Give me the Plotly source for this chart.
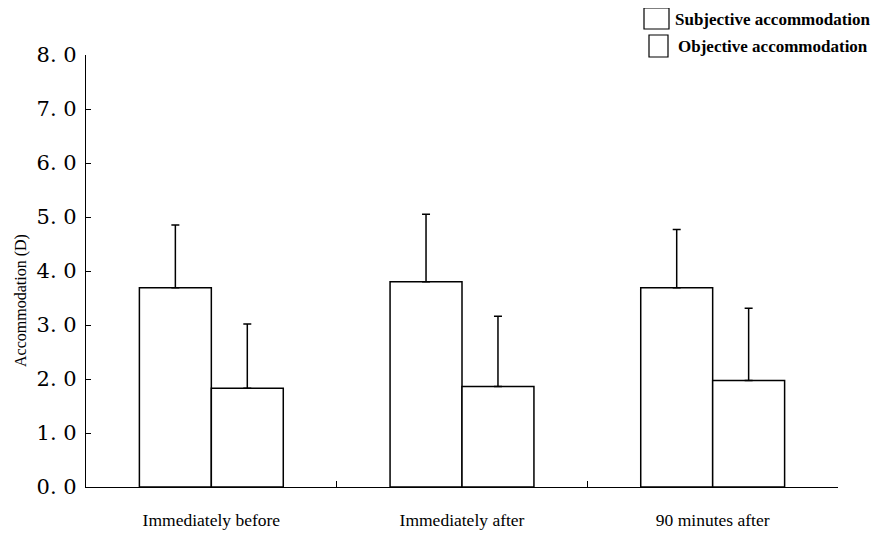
import plotly.graph_objects as go

categories = ["Immediately before", "Immediately after", "90 minutes after"]
subjective = [3.69, 3.80, 3.69]
subjective_sd = [1.16, 1.25, 1.08]
objective = [1.83, 1.86, 1.97]
objective_sd = [1.19, 1.30, 1.34]
ytick_vals = [0, 1, 2, 3, 4, 5, 6, 7, 8]
ytick_text = ["0. 0", "1. 0", "2. 0", "3. 0", "4. 0", "5. 0", "6. 0", "7. 0", "8. 0"]
legend_names = ["Subjective accommodation", "Objective accommodation"]

serif = "Liberation Serif, Times New Roman, serif"

fig = go.Figure()
fig.add_trace(go.Bar(
    name=legend_names[0], x=categories, y=subjective,
    marker=dict(color="white", line=dict(color="black", width=1.5)),
    error_y=dict(type="data", array=subjective_sd, arrayminus=[0, 0, 0], symmetric=False,
                 color="black", thickness=1.5, width=4),
))
fig.add_trace(go.Bar(
    name=legend_names[1], x=categories, y=objective,
    marker=dict(color="white", line=dict(color="black", width=1.5)),
    error_y=dict(type="data", array=objective_sd, arrayminus=[0, 0, 0], symmetric=False,
                 color="black", thickness=1.5, width=4),
))

# page is rendered with an 8px body margin; figure coords = screen coords - 8
FW, FH = 871, 527
L, T, W, H = 78, 47, 752, 432


def px2paper(x, y):
    return (x - L) / W, (T + H - y) / H


# custom legend (boxes + labels) in paper coordinates
box_px = [(636, 0, 661, 21), (641, 27, 660, 49)]
text_px = [(665, 12), (668, 39)]
legend_shapes = []
legend_annots = []
for (x0, y0, x1, y1), (tx, ty), name in zip(box_px, text_px, legend_names):
    a0, b0 = px2paper(x0, y1)
    a1, b1 = px2paper(x1, y0)
    legend_shapes.append(dict(type="rect", xref="paper", yref="paper", x0=a0, y0=b0, x1=a1, y1=b1,
                              line=dict(color="black", width=1.2), fillcolor="white"))
    ax, ay = px2paper(tx, ty)
    legend_annots.append(dict(text="<b>" + name + "</b>", xref="paper", yref="paper", x=ax, y=ay,
                              xanchor="left", yanchor="middle", showarrow=False,
                              font=dict(family=serif, size=17, color="black")))

tx, ty = px2paper(13, 293)
fig.update_layout(
    width=FW, height=FH,
    margin=dict(l=L, r=FW - L - W, t=T, b=FH - T - H, autoexpand=False),
    plot_bgcolor="white", paper_bgcolor="white",
    barmode="group", bargap=0.426, bargroupgap=0,
    showlegend=False,
    xaxis=dict(showline=True, linecolor="black", linewidth=1.2, ticks="inside",
               tickson="boundaries", ticklen=6, tickcolor="black", showgrid=False,
               tickfont=dict(family=serif, size=17.5, color="black"),
               ticklabelstandoff=17, zeroline=False),
    yaxis=dict(range=[0, 8], tickvals=ytick_vals, ticktext=ytick_text,
               showline=True, linecolor="black", linewidth=1.2, ticks="inside",
               ticklen=5, tickcolor="black", showgrid=False, zeroline=False,
               tickfont=dict(family="DejaVu Serif, serif", size=21, color="black"),
               ticklabelstandoff=4),
    shapes=legend_shapes,
    annotations=[dict(text="Accommodation (D)", textangle=-90, xref="paper", yref="paper",
                      x=tx, y=ty, xanchor="center", yanchor="middle", showarrow=False,
                      font=dict(family=serif, size=16, color="black"))] + legend_annots,
)

fig.write_html("out.html")
